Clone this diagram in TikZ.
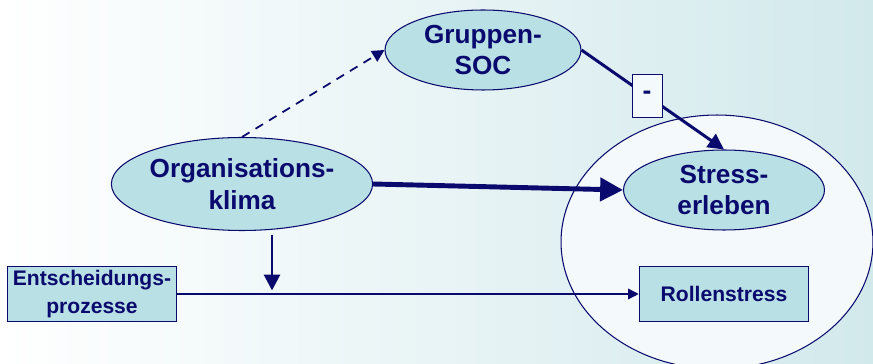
\documentclass[tikz,border=0pt]{standalone}
\usepackage{fontspec}
\setmainfont{Liberation Sans}
\usetikzlibrary{shapes.geometric,arrows.meta}
\definecolor{navy}{RGB}{10,10,110}
\definecolor{cellfill}{RGB}{185,224,228}
\definecolor{bgteal}{RGB}{210,233,236}
\definecolor{hullfill}{RGB}{244,250,251}
\tikzset{
  factor/.style={ellipse, draw=navy, line width=0.6pt, fill=cellfill, inner sep=0pt, align=center,
    text=navy, font=\fontsize{14.9}{18}\selectfont\bfseries},
  measure/.style={rectangle, draw=navy, line width=0.9pt, fill=cellfill, inner sep=0pt,
    minimum width=3.38cm, minimum height=1.1cm, align=center, text=navy,
    font=\fontsize{12}{15.5}\selectfont\bfseries},
  signbox/.style={rectangle, draw=navy, line width=0.6pt, fill=hullfill, inner sep=0pt,
    minimum width=0.6cm, minimum height=0.86cm, text=navy,
    font=\fontsize{15}{18}\selectfont\bfseries},
}
\begin{document}
\begin{tikzpicture}[x=0.02cm,y=-0.02cm]
%Background
\shade[left color=white,right color=bgteal] (0,0) rectangle (873,364);
\useasboundingbox (0,0) rectangle (873,364);
%Outer hull round the outcomes
\node [ellipse, draw=navy, line width=0.6pt, fill=hullfill, minimum width=6.24cm, minimum height=5.08cm] (hull) at (717,242) {};
%Factors
\node [factor, minimum width=3.92cm, minimum height=1.6cm] (soc) at (483,50) {Gruppen-\\SOC};
\node [factor, minimum width=5.2cm, minimum height=1.86cm] (klima) at (242,184) {Organisations-\\klima};
\node [factor, minimum width=4.02cm, minimum height=1.6cm] (stress) at (724,190) {Stress-\\erleben};
%Boxes
\node [measure] (prozesse) at (92,294) {Entscheidungs-\\prozesse};
\node [measure] (rolle) at (724,294) {Rollenstress};
%Paths
\draw [navy, dashed, line width=1pt, dash pattern=on 5pt off 4pt,
  -{Triangle[length=7pt,width=7pt]}] (klima.north) -- (soc.west);
\draw [navy, line width=1.7pt, -{Triangle[length=9pt,width=9pt]}] (soc.east) -- (stress.north)
  node [signbox, pos=0.46] (sign) {-};
\draw [navy, line width=2.8pt, -{Triangle[length=13pt,width=13pt]}] (klima.east) -- (stress.west);
\draw [navy, line width=0.7pt, -{Triangle[length=6pt,width=6pt]}] (prozesse.east) -- (rolle.west);
%Moderation onto the lower path
\coordinate (merge) at (272,294);
\draw [navy, line width=1.7pt, -{Triangle[length=9pt,width=9pt]}, shorten <=2pt, shorten >=2pt]
  (klima.south -| merge) -- (merge);
\end{tikzpicture}
\end{document}
